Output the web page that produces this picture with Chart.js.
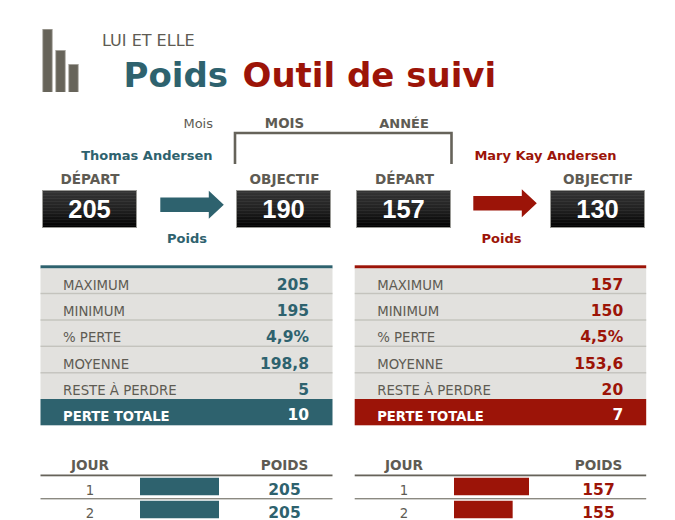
<!DOCTYPE html>
<html lang="fr">
<head>
<meta charset="utf-8">
<title>Poids Outil de suivi</title>
<style>
  html, body { margin: 0; padding: 0; background: #fff; overflow: hidden; }
  #page { position: relative; width: 675px; height: 520px; overflow: hidden; }
  #art { position: absolute; left: 0; top: 0; }
  #art text { font-family: "DejaVu Sans", Verdana, sans-serif; fill: #5e5b53; }
  #art .b { font-weight: 700; }
  #art .tile { font-family: "Liberation Sans", Arial, sans-serif; font-weight: 700; font-size: 25.5px; fill: #fff; }
  canvas { position: absolute; display: block; }
</style>
<script src="https://cdn.jsdelivr.net/npm/chart.js@4"></script>
</head>
<body>
<div id="page">
  <svg id="art" width="675" height="520" xmlns="http://www.w3.org/2000/svg"></svg>
  <canvas id="logoChart" style="left:41px;top:29px" width="39" height="63"></canvas>
  <canvas id="heBars" style="left:140px;top:475px" width="79" height="46"></canvas>
  <canvas id="sheBars" style="left:454px;top:475px" width="75" height="46"></canvas>
</div>
<script>
const TEAL = "#2e626e";
const RED = "#9c1408";
const INK = "#5e5b53";
const GREY = "#66635a";

// --- Data ------------------------------------------------------------------
const logoBars = [100, 66, 44];
const logoSlots = ["a", "b", "c"];

const summaryLabels = ["MAXIMUM", "MINIMUM", "% PERTE", "MOYENNE", "RESTE À PERDRE"];
const heSummary = ["205", "195", "4,9%", "198,8", "5"];
const sheSummary = ["157", "150", "4,5%", "153,6", "20"];
const totalLabel = "PERTE TOTALE";
const heTotal = "10";
const sheTotal = "7";

const heStart = "205";
const heGoal = "190";
const sheStart = "157";
const sheGoal = "130";

const days = [1, 2];
const heWeights = [205, 205];
const sheWeights = [157, 155];
const heBarRange = [195, 205];
const sheBarRange = [148, 157];

// --- Static artwork --------------------------------------------------------
const out = [];
function text(str, x, y, size, opts = {}) {
  const { bold, fill, anchor } = opts;
  out.push(`<text x="${x}" y="${y}" font-size="${size}" text-anchor="${anchor || "start"}"` +
    `${bold ? ' class="b"' : ""} style="fill:${fill || INK}">${str}</text>`);
}
function rect(x, y, w, h, fill) {
  out.push(`<rect x="${x}" y="${y}" width="${w}" height="${h}" fill="${fill}"/>`);
}
function arrow(x, y, color) {
  // x,y = tail left, arrow centre line
  out.push(`<polygon fill="${color}" points="${x},${y - 7.3} ${x + 48.5},${y - 7.3} ${x + 48.5},${y - 14} ` +
    `${x + 63.5},${y} ${x + 48.5},${y + 14} ${x + 48.5},${y + 7.3} ${x},${y + 7.3}"/>`);
}
function tile(x, value) {
  out.push(`<rect x="${x}" y="190.5" width="94" height="37" fill="url(#tileFill)" stroke="#9a9a96" stroke-width="1"/>`);
  out.push(`<rect x="${x + 0.5}" y="191" width="93" height="36" fill="url(#tileLines)"/>`);
  out.push(`<text class="tile" x="${x + 47}" y="218.3" text-anchor="middle">${value}</text>`);
}
function panel(x, w, color, values, total) {
  const rowLines = [293.5, 320, 346.3, 372.8];
  const baselines = [290.2, 316.3, 342.4, 368.6, 394.6];
  rect(x, 265.3, w, 3.2, color);
  rect(x, 268.5, w, 131, "#e2e1de");
  rowLines.forEach((y) => rect(x, y - 0.7, w, 1.4, "#c4c3bd"));
  summaryLabels.forEach((label, i) => {
    text(label, x + 22.5, baselines[i], 13.3);
    text(values[i], x + 268.5, baselines[i], 15.5, { bold: true, fill: color, anchor: "end" });
  });
  rect(x, 399, w, 26.3, color);
  text(totalLabel, x + 22.5, 420.5, 13.2, { bold: true, fill: "#fff" });
  text(total, x + 268.5, 420.2, 15.5, { bold: true, fill: "#fff", anchor: "end" });
}
function dayTable(x, w, dayX, poidsX, color, weights) {
  text("JOUR", dayX, 470, 13.6, { bold: true, anchor: "middle" });
  text("POIDS", poidsX, 470, 13.6, { bold: true, anchor: "middle" });
  rect(x, 474.5, w, 1.8, GREY);
  rect(x, 498, w, 1.4, "#8b8981");
  days.forEach((d, i) => {
    const y = i === 0 ? 495 : 518;
    text(d, dayX, y, 13.3, { anchor: "middle" });
    text(weights[i], poidsX, y, 15.5, { bold: true, fill: color, anchor: "middle" });
  });
}

out.push(`<defs>
  <linearGradient id="tileFill" x1="0" y1="0" x2="0" y2="1">
    <stop offset="0" stop-color="#353535"/><stop offset="0.55" stop-color="#1f1f1f"/><stop offset="1" stop-color="#000"/>
  </linearGradient>
  <pattern id="tileLines" width="4" height="3" patternUnits="userSpaceOnUse">
    <rect width="4" height="1" fill="rgba(255,255,255,0.05)"/>
  </pattern>
</defs>`);

// header
text("LUI ET ELLE", 102, 46, 16);
text("Poids", 123.5, 86.5, 34, { bold: true, fill: TEAL });
text("Outil de suivi", 242.5, 86.5, 34, { bold: true, fill: RED });

// period selector
text("Mois", 213, 127.8, 13, { anchor: "end" });
text("MOIS", 284.5, 127.5, 13.4, { bold: true, anchor: "middle" });
text("ANNÉE", 404, 127.5, 13, { bold: true, anchor: "middle" });
out.push(`<path d="M235 164 V133 H451.5 V164" fill="none" stroke="${GREY}" stroke-width="2.6"/>`);

// names and start / goal tiles
text("Thomas Andersen", 212.5, 160, 13, { bold: true, fill: TEAL, anchor: "end" });
text("Mary Kay Andersen", 545.5, 160, 13, { bold: true, fill: RED, anchor: "middle" });
[["DÉPART", 90], ["OBJECTIF", 284.5], ["DÉPART", 404.5], ["OBJECTIF", 598]].forEach(([t, x]) =>
  text(t, x, 184.3, 13.6, { bold: true, anchor: "middle" })
);
tile(42.5, heStart);
tile(236.5, heGoal);
tile(356.5, sheStart);
tile(550.5, sheGoal);
arrow(160.3, 204.7, TEAL);
arrow(473.3, 203.3, RED);
text("Poids", 187, 242.7, 13, { bold: true, fill: TEAL, anchor: "middle" });
text("Poids", 501.5, 242.7, 13, { bold: true, fill: RED, anchor: "middle" });

// summary panels
panel(40.5, 292, TEAL, heSummary, heTotal);
panel(354.7, 291.5, RED, sheSummary, sheTotal);

// day tables
dayTable(40.5, 292, 90, 284.5, TEAL, heWeights);
dayTable(354.7, 291.5, 404, 598.5, RED, sheWeights);

document.getElementById("art").innerHTML = out.join("");

// --- Charts ----------------------------------------------------------------
function bareScales() {
  return {
    responsive: false,
    animation: false,
    events: [],
    layout: { padding: 0 },
    plugins: { legend: { display: false }, tooltip: { enabled: false } },
  };
}

function dayBars(id, weights, range, color) {
  return new Chart(document.getElementById(id), {
    type: "bar",
    data: {
      labels: days,
      datasets: [{ data: weights, backgroundColor: color, borderWidth: 0, barThickness: 17 }],
    },
    options: {
      ...bareScales(),
      indexAxis: "y",
      scales: {
        x: { display: false, min: range[0], max: range[1] },
        y: { display: false },
      },
    },
  });
}

dayBars("heBars", heWeights, heBarRange, TEAL);
dayBars("sheBars", sheWeights, sheBarRange, RED);

new Chart(document.getElementById("logoChart"), {
  type: "bar",
  data: {
    labels: logoSlots,
    datasets: [{
      data: logoBars,
      backgroundColor: "#67645a",
      borderColor: "#a3a19a",
      borderWidth: 1,
      barThickness: 10,
    }],
  },
  options: {
    ...bareScales(),
    scales: {
      x: { display: false },
      y: { display: false, min: 0, max: 100 },
    },
  },
});
</script>
</body>
</html>
